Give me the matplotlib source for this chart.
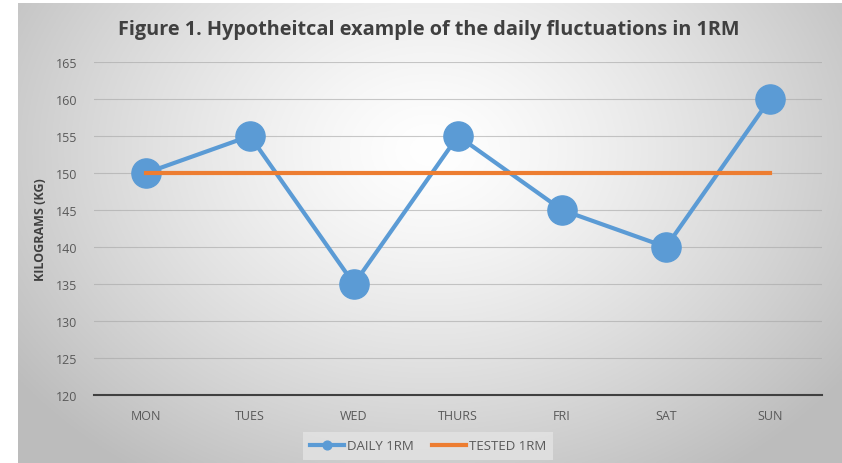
import numpy as np
import matplotlib.pyplot as plt

# chart data
days = ["MON", "TUES", "WED", "THURS", "FRI", "SAT", "SUN"]
daily_1rm = [150, 155, 135, 155, 145, 140, 160]
tested_1rm = [150, 150, 150, 150, 150, 150, 150]
yticks = [120, 125, 130, 135, 140, 145, 150, 155, 160, 165]

plt.rcParams["font.family"] = ["Open Sans", "DejaVu Sans"]

W, H = 842, 464
fig = plt.figure(figsize=(W / 100, H / 100), dpi=100)

# radial gradient background of the chart area
bg = fig.add_axes([18 / W, 0, 1 - 18 / W, 1 - 4 / H])
bg.set_axis_off()
yy, xx = np.mgrid[0:1:300j, 0:1:500j]
r = np.sqrt(((xx - 0.5) / 0.62) ** 2 + ((yy - 0.32) / 0.85) ** 2)
shade = np.clip(1.0 - 0.26 * r ** 1.3, 0.74, 1.0)
bg.imshow(np.dstack([shade] * 3), extent=[0, 1, 1, 0], aspect="auto")

ax = fig.add_axes([94 / W, 1 - 396 / H, 728 / W, (396 - 63) / H])
ax.patch.set_alpha(0)
x = np.arange(len(days))

ax.plot(x, daily_1rm, color="#5B9BD5", lw=3, marker="o", markersize=21,
        label="DAILY 1RM", zorder=3)
ax.plot(x, tested_1rm, color="#ED7D31", lw=3, label="TESTED 1RM", zorder=4)

ax.set_xlim(-0.5, len(days) - 0.5)
ax.set_ylim(120, 165)
ax.set_yticks(yticks)
ax.set_xticks(x)
ax.set_xticklabels(days)
ax.grid(axis="y", color="#a6a6a6", lw=0.8, alpha=0.6)
ax.set_axisbelow(True)
for s in ["top", "right", "left"]:
    ax.spines[s].set_visible(False)
ax.spines["bottom"].set_color("#404040")
ax.spines["bottom"].set_linewidth(1.5)
ax.tick_params(length=0, colors="#595959", labelsize=9)
ax.tick_params(axis="x", pad=10)
ax.tick_params(axis="y", pad=12)

ax.set_ylabel("KILOGRAMS (KG)", fontsize=9, fontweight="bold", color="#404040",
              labelpad=6)

fig.text(429 / W, 1 - 30 / H, "Figure 1. Hypotheitcal example of the daily fluctuations in 1RM",
         ha="center", va="center", fontsize=14.3, fontweight="bold", color="#404040")

leg = fig.legend(loc="center", bbox_to_anchor=(428 / W, 1 - 447 / H), ncol=2,
                 frameon=True, fontsize=9.5, handlelength=2.6, handletextpad=0.2,
                 columnspacing=1.4, borderpad=0.55, markerscale=0.3)
leg.get_frame().set_facecolor("#e3e3e3")
leg.get_frame().set_edgecolor("none")
leg.get_frame().set_boxstyle("square", pad=0)
for t in leg.get_texts():
    t.set_color("#595959")

fig.savefig("out.png", dpi=100)
